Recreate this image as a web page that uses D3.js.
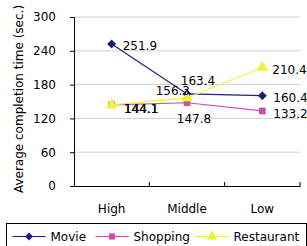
<!DOCTYPE html>
<html>
<head>
<meta charset="utf-8">
<script src="https://cdn.jsdelivr.net/npm/d3@7"></script>
<style>
  body { margin: 0; background: #fff; }
  text { font-family: "DejaVu Sans", sans-serif; fill: #000; }
</style>
</head>
<body>
<div id="chart"></div>
<script>
var categories = ["High", "Middle", "Low"];
var seriesNames = ["Movie", "Shopping", "Restaurant"];
var movieValues = [251.9, 163.4, 160.4];
var shoppingValues = [144.1, 147.8, 133.2];
var restaurantValues = [144.1, 156.3, 210.4];
var yTicks = [0, 60, 120, 180, 240, 300];

var colors = ["#1f1f7a", "#c850b0", "#f0f040"];
var shapes = [d3.symbolSquare, d3.symbolSquare, d3.symbolTriangle];
var rotations = [45, 0, 0];
var sizes = [40, 45, 60];
var allValues = [movieValues, shoppingValues, restaurantValues];

// label offsets per series / point: dx, dy, anchor
var labelPos = [
    [[11, 6, "start"], [11, -9, "middle"], [11, 6, "start"]],
    [[12, 8, "start"], [7, 20, "middle"], [11, 7, "start"]],
    [[12.6, 8, "start"], [3, -3, "end"], [10, 7, "start"]]
];

var width = 307, height = 246;
var margin = { top: 17, right: 7, bottom: 60, left: 74 };
var axisWidth = width - margin.left - margin.right;
var axisHeight = 186 - margin.top;

var svg = d3.select("#chart")
    .append("svg")
    .attr("width", width)
    .attr("height", height);

var g = svg.append("g")
    .attr("transform", "translate(" + margin.left + "," + margin.top + ")");

var x = d3.scaleBand()
    .domain(categories)
    .range([0, axisWidth]);

var y = d3.scaleLinear()
    .domain([0, 300])
    .range([axisHeight, 0]);

// gridlines
g.selectAll(".grid")
    .data(yTicks.slice(1))
    .enter()
    .append("line")
    .attr("x1", 0)
    .attr("x2", axisWidth)
    .attr("y1", d => y(d))
    .attr("y2", d => y(d))
    .attr("stroke", "#d0d0d0")
    .attr("stroke-width", 1);

// Y axis
var yAxis = g.append("g")
    .call(d3.axisLeft(y).tickValues(yTicks).tickSize(4).tickPadding(14));
yAxis.select(".domain").attr("stroke", "#000");
yAxis.selectAll("text").style("font-size", "12px");

// X axis
var xAxis = g.append("g")
    .attr("transform", "translate(0," + axisHeight + ")")
    .call(d3.axisBottom(x).tickSize(0).tickPadding(18));
xAxis.select(".domain").attr("stroke", "#000").attr("stroke-width", 1.2);
xAxis.selectAll("text").style("font-size", "12px");
g.selectAll(".xtick")
    .data(categories)
    .enter()
    .append("line")
    .attr("x1", d => x(d) + x.bandwidth())
    .attr("x2", d => x(d) + x.bandwidth())
    .attr("y1", axisHeight)
    .attr("y2", axisHeight - 4)
    .attr("stroke", "#000");

// Y title
svg.append("text")
    .attr("transform", "translate(23," + 99 + ") rotate(-90)")
    .attr("text-anchor", "middle")
    .style("font-size", "12px")
    .text("Average completion time (sec.)");

var line = d3.line()
    .x((d, i) => x(categories[i]) + x.bandwidth() / 2)
    .y(d => y(d));

allValues.forEach(function (vals, s) {
    g.append("path")
        .datum(vals)
        .attr("d", line)
        .attr("fill", "none")
        .attr("stroke", colors[s])
        .attr("stroke-width", 1.2);
    g.selectAll(".pt" + s)
        .data(vals)
        .enter()
        .append("path")
        .attr("d", d3.symbol().type(shapes[s]).size(sizes[s]))
        .attr("transform", (d, i) => "translate(" + (x(categories[i]) + x.bandwidth() / 2) + "," + y(d) + ") rotate(" + rotations[s] + ")")
        .attr("fill", colors[s]);
});

allValues.forEach(function (vals, s) {
    g.selectAll(".lbl" + s)
        .data(vals)
        .enter()
        .append("text")
        .attr("x", (d, i) => x(categories[i]) + x.bandwidth() / 2 + labelPos[s][i][0])
        .attr("y", (d, i) => y(d) + labelPos[s][i][1])
        .attr("text-anchor", (d, i) => labelPos[s][i][2])
        .style("font-size", "12px")
        .text(d => d.toFixed(1));
});

// legend
var legend = svg.append("g").attr("transform", "translate(6.5,223.5)");
legend.append("rect")
    .attr("x", 0).attr("y", 0)
    .attr("width", 300).attr("height", 30)
    .attr("fill", "#fff").attr("stroke", "#000");
var legendX = [6, 89, 189];
seriesNames.forEach(function (name, s) {
    var item = legend.append("g").attr("transform", "translate(" + legendX[s] + ",13)");
    item.append("line")
        .attr("x1", 0).attr("x2", 33)
        .attr("stroke", colors[s]).attr("stroke-width", 1.2);
    item.append("path")
        .attr("d", d3.symbol().type(shapes[s]).size(sizes[s] - 8))
        .attr("transform", "translate(16.5,0) rotate(" + rotations[s] + ")")
        .attr("fill", colors[s]);
    item.append("text")
        .attr("x", 38).attr("y", 4.5)
        .style("font-size", "12px")
        .text(name);
});
</script>
</body>
</html>
